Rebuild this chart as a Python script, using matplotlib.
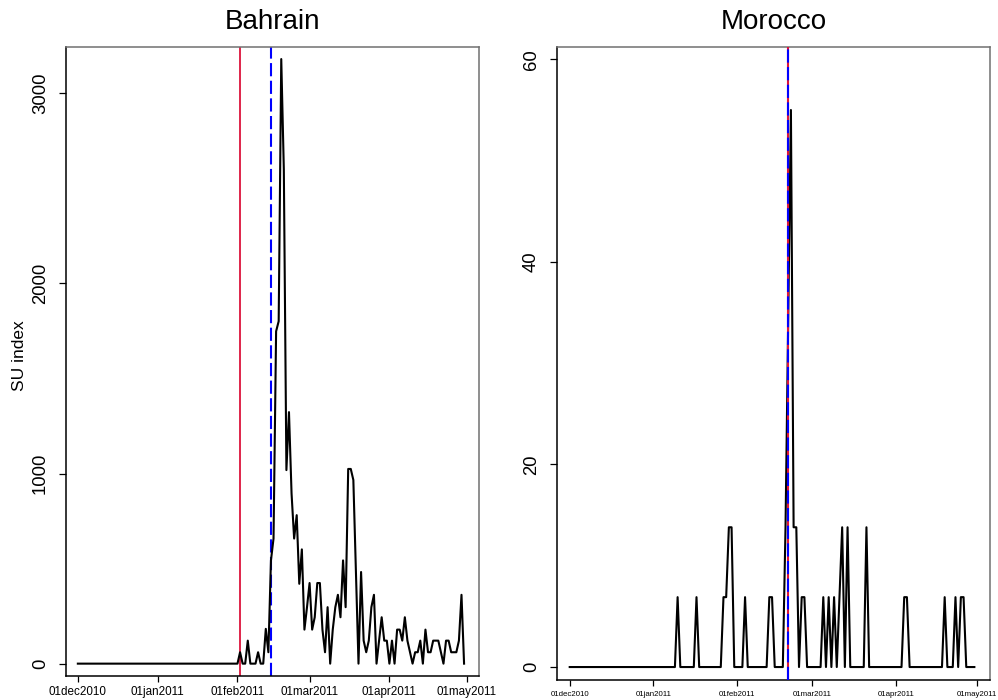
import matplotlib
matplotlib.use("Agg")
import matplotlib.pyplot as plt
import numpy as np
import pandas as pd

plt.rcParams['font.family'] = ['Liberation Sans', 'DejaVu Sans']
plt.rcParams['lines.scale_dashes'] = False

# Daily series, 01dec2010 .. 30apr2011
dates = pd.date_range('2010-12-01', '2011-04-30', freq='D')

# Bahrain SU index: zero through 01feb2011, then daily values
bahrain_pre = [0] * 62
bahrain_post = [
    0, 60, 0, 0, 121, 0, 0, 0, 60, 0, 0, 183, 60, 543, 658, 1748, 1801, 3180,
    2600, 1018, 1323, 895, 658, 781, 420, 601, 179, 297, 424, 179, 244, 424,
    424, 179, 60, 297, 0, 179, 297, 362, 244, 543, 297, 1024, 1024, 966, 482,
    0, 482, 121, 60, 121, 297, 362, 0, 121, 244, 121, 121, 0, 121, 0, 179, 179,
    121, 244, 121, 60, 0, 60, 60, 121, 0, 179, 60, 60, 121, 121, 121, 60, 0,
    121, 121, 60, 60, 60, 121, 362, 0,
]
bahrain = np.array(bahrain_pre + bahrain_post, dtype=float)

# Morocco SU index: nonzero days (day offset from 01dec2010 -> value)
morocco_days = [40, 47, 57, 58, 59, 60, 65, 74, 75, 80, 81, 82, 83, 84, 86, 87,
                94, 96, 98, 100, 101, 103, 110, 124, 125, 139, 143, 145, 146]
morocco_vals = [6.9, 6.9, 6.9, 6.9, 13.8, 13.8, 6.9, 6.9, 6.9, 13.8, 34.5, 55.0,
                13.8, 13.8, 6.9, 6.9, 6.9, 6.9, 6.9, 6.9, 13.8, 13.8, 13.8,
                6.9, 6.9, 6.9, 6.9, 6.9, 6.9]
morocco = np.zeros(len(dates))
morocco[morocco_days] = morocco_vals

# Event markers
bahrain_red = pd.Timestamp('2011-02-02')
bahrain_blue = pd.Timestamp('2011-02-14')
morocco_event = pd.Timestamp('2011-02-20')

tick_dates = pd.to_datetime(['2010-12-01', '2011-01-01', '2011-02-01',
                             '2011-03-01', '2011-04-01', '2011-05-01'])
tick_labels = ['01dec2010', '01jan2011', '01feb2011', '01mar2011',
               '01apr2011', '01may2011']

W, H = 998, 700
fig = plt.figure(figsize=(W / 100, H / 100), dpi=100)

def px_axes(left, top, right, bottom):
    return fig.add_axes([left / W, 1 - bottom / H, (right - left) / W, (bottom - top) / H])

ax1 = px_axes(66, 46.7, 479, 676)
ax2 = px_axes(557.3, 46.7, 990, 680)

RED = '#DC143C'
BLUE = '#0000FF'

def style(ax, yticks, ylim, xfs, xpad):
    d0 = dates[0]
    ax.set_xlim(d0 - pd.Timedelta(days=4.6), d0 + pd.Timedelta(days=155.8))
    ax.set_ylim(*ylim)
    ax.set_xticks(tick_dates)
    ax.set_xticklabels(tick_labels, fontsize=xfs, va='center')
    ax.set_yticks(yticks)
    ax.set_yticklabels([str(v) for v in yticks], fontsize=13.3, rotation=90,
                       ha='center', va='center')
    ax.tick_params(axis='y', length=5, width=0.9, pad=13.5, color='black')
    ax.tick_params(axis='x', length=4.6, width=0.9, pad=xpad, color='black')
    for s in ('left', 'bottom'):
        ax.spines[s].set_color('black')
        ax.spines[s].set_linewidth(1.1)
    for s in ('top', 'right'):
        ax.spines[s].set_color('#707070')
        ax.spines[s].set_linewidth(1.1)

# Bahrain
ax1.plot(dates, bahrain, color='black', lw=1.5, zorder=3)
ax1.axvline(bahrain_red, color=RED, lw=1.3, zorder=2)
ax1.axvline(bahrain_blue, color=BLUE, lw=1.5, dashes=(9.5, 3.2), zorder=2)
style(ax1, [0, 1000, 2000, 3000], (-65, 3245), 8.4, 7.0)

# Morocco
ax2.plot(dates, morocco, color='black', lw=1.5, zorder=2)
ax2.axvline(morocco_event, color=RED, lw=1.5, zorder=3)
ax2.axvline(morocco_event, color=BLUE, lw=1.5, dashes=(9.5, 3.2), zorder=4)
style(ax2, [0, 20, 40, 60], (-1.28, 61.25), 5.7, 6.0)

fig.text(272.5 / W, 1 - 22 / H, 'Bahrain', fontsize=20, ha='center', va='center')
fig.text(773.6 / W, 1 - 22 / H, 'Morocco', fontsize=20, ha='center', va='center')
fig.text(19 / W, 1 - 356 / H, 'SU index', fontsize=12.5, rotation=90,
         ha='center', va='center')

fig.savefig('out.png', dpi=100)
